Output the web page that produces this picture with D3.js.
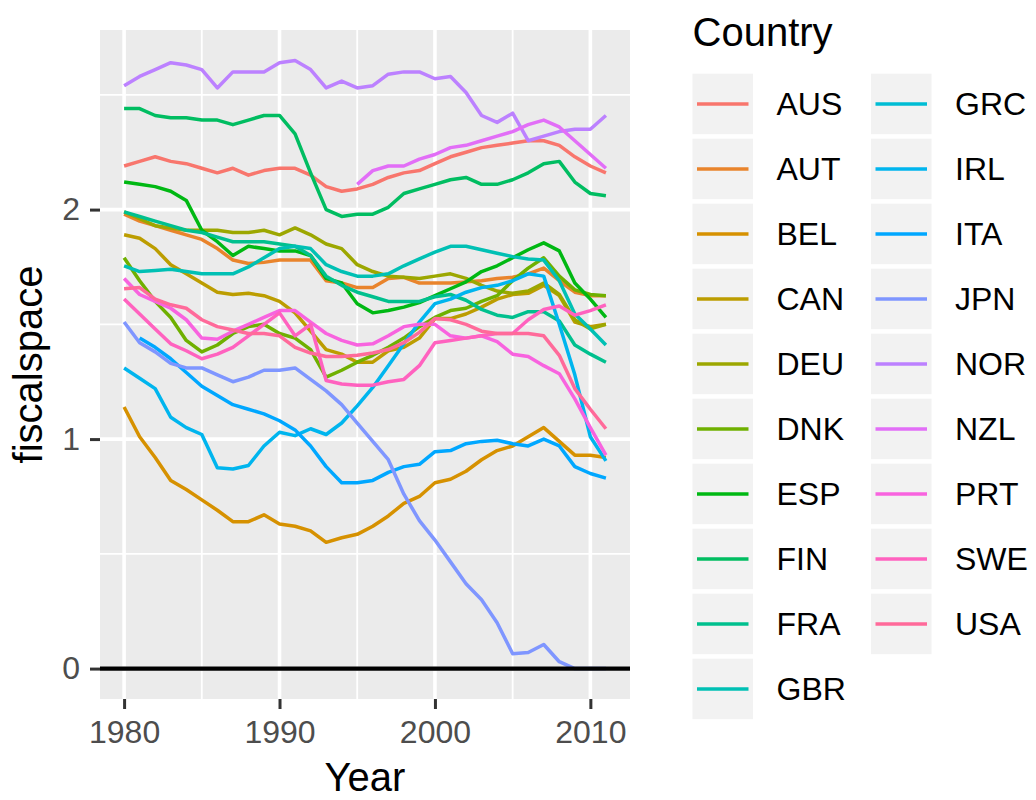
<!DOCTYPE html>
<html>
<head>
<meta charset="utf-8">
<script src="https://cdn.jsdelivr.net/npm/d3@7"></script>
<style>
  html, body { margin: 0; padding: 0; background: #ffffff; }
  svg { display: block; font-family: "Liberation Sans", Arial, Helvetica, sans-serif; }
</style>
</head>
<body>
<svg id="chart" width="1036" height="800"></svg>
<script>
// Fiscal space by country, 1980-2011
const years = [1980, 1981, 1982, 1983, 1984, 1985, 1986, 1987, 1988, 1989,
               1990, 1991, 1992, 1993, 1994, 1995, 1996, 1997, 1998, 1999,
               2000, 2001, 2002, 2003, 2004, 2005, 2006, 2007, 2008, 2009,
               2010, 2011];

const countries = ["AUS", "AUT", "BEL", "CAN", "DEU", "DNK", "ESP", "FIN", "FRA", "GBR",
                   "GRC", "IRL", "ITA", "JPN", "NOR", "NZL", "PRT", "SWE", "USA"];

const fsAUS = [2.19, 2.21, 2.23, 2.21, 2.20, 2.18, 2.16, 2.18, 2.15, 2.17,
               2.18, 2.18, 2.15, 2.10, 2.08, 2.09, 2.11, 2.14, 2.16, 2.17,
               2.20, 2.23, 2.25, 2.27, 2.28, 2.29, 2.30, 2.30, 2.28, 2.23,
               2.19, 2.16];
const fsAUT = [1.98, 1.95, 1.93, 1.91, 1.89, 1.87, 1.83, 1.78, 1.765, 1.77,
               1.78, 1.78, 1.78, 1.69, 1.68, 1.66, 1.66, 1.70, 1.705, 1.68,
               1.68, 1.68, 1.685, 1.69, 1.70, 1.705, 1.72, 1.745, 1.69, 1.64,
               1.625, 1.625];
const fsBEL = [1.14, 1.01, 0.92, 0.82, 0.78, 0.735, 0.69, 0.64, 0.64, 0.67,
               0.63, 0.62, 0.60, 0.55, 0.57, 0.585, 0.62, 0.665, 0.72, 0.75,
               0.81, 0.825, 0.86, 0.91, 0.95, 0.97, 1.01, 1.05, 0.99, 0.93,
               0.93, 0.92];
const fsCAN = [1.89, 1.875, 1.83, 1.76, 1.72, 1.68, 1.64, 1.63, 1.635, 1.625,
               1.60, 1.55, 1.47, 1.39, 1.37, 1.335, 1.335, 1.385, 1.40, 1.44,
               1.525, 1.525, 1.545, 1.575, 1.61, 1.63, 1.635, 1.67, 1.625, 1.51,
               1.49, 1.50];
const fsDEU = [1.99, 1.96, 1.93, 1.92, 1.91, 1.91, 1.91, 1.90, 1.90, 1.91,
               1.89, 1.92, 1.89, 1.85, 1.83, 1.76, 1.73, 1.71, 1.705, 1.70,
               1.71, 1.72, 1.70, 1.67, 1.645, 1.635, 1.645, 1.68, 1.63, 1.52,
               1.48, 1.50];
const fsDNK = [1.79, 1.69, 1.60, 1.53, 1.43, 1.38, 1.41, 1.46, 1.49, 1.50,
               1.46, 1.44, 1.39, 1.27, 1.30, 1.335, 1.365, 1.40, 1.44, 1.49,
               1.53, 1.56, 1.57, 1.60, 1.625, 1.69, 1.745, 1.79, 1.71, 1.65,
               1.63, 1.625];
const fsESP = [2.12, 2.11, 2.10, 2.08, 2.04, 1.91, 1.86, 1.80, 1.84, 1.83,
               1.82, 1.82, 1.80, 1.70, 1.68, 1.59, 1.55, 1.56, 1.575, 1.595,
               1.625, 1.655, 1.685, 1.73, 1.755, 1.79, 1.825, 1.855, 1.82, 1.68,
               1.61, 1.53];
const fsFIN = [2.44, 2.44, 2.41, 2.40, 2.40, 2.39, 2.39, 2.37, 2.39, 2.41,
               2.41, 2.33, 2.16, 2.00, 1.97, 1.98, 1.98, 2.01, 2.07, 2.09,
               2.11, 2.13, 2.14, 2.11, 2.11, 2.13, 2.16, 2.20, 2.21, 2.12,
               2.07, 2.06];
const fsFRA = [1.99, 1.97, 1.95, 1.93, 1.91, 1.90, 1.88, 1.86, 1.86, 1.86,
               1.85, 1.84, 1.80, 1.71, 1.67, 1.64, 1.62, 1.60, 1.60, 1.60,
               1.62, 1.63, 1.605, 1.565, 1.54, 1.53, 1.555, 1.555, 1.515, 1.41,
               1.37, 1.335];
const fsGBR = [1.755, 1.73, 1.735, 1.74, 1.73, 1.72, 1.72, 1.72, 1.75, 1.79,
               1.83, 1.84, 1.83, 1.76, 1.73, 1.71, 1.71, 1.72, 1.755, 1.785,
               1.815, 1.84, 1.84, 1.825, 1.81, 1.795, 1.785, 1.78, 1.69, 1.545,
               1.48, 1.41];
const fsGRC = [null, null, null, null, null, null, null, null, null, null,
               null, null, null, null, null, null, null, null, null, null,
               null, null, null, null, null, null, null, null, null, null,
               null, null];
const fsIRL = [1.31, 1.265, 1.22, 1.095, 1.05, 1.02, 0.875, 0.87, 0.885, 0.97,
               1.03, 1.015, 1.045, 1.02, 1.07, 1.145, 1.225, 1.32, 1.415, 1.51,
               1.59, 1.61, 1.64, 1.66, 1.67, 1.69, 1.72, 1.71, 1.50, 1.28,
               1.01, 0.905];
const fsITA = [null, 1.44, 1.40, 1.35, 1.29, 1.23, 1.19, 1.15, 1.13, 1.11,
               1.08, 1.04, 0.97, 0.88, 0.81, 0.81, 0.82, 0.855, 0.88, 0.89,
               0.945, 0.95, 0.98, 0.99, 0.995, 0.98, 0.97, 1.00, 0.97, 0.88,
               0.85, 0.83];
const fsJPN = [1.51, 1.42, 1.38, 1.33, 1.31, 1.31, 1.28, 1.25, 1.27, 1.30,
               1.30, 1.31, 1.26, 1.21, 1.15, 1.07, 0.99, 0.91, 0.76, 0.645,
               0.56, 0.465, 0.37, 0.30, 0.20, 0.065, 0.07, 0.105, 0.03, 0.00,
               0.00, 0.00];
const fsNOR = [2.54, 2.58, 2.61, 2.64, 2.63, 2.61, 2.53, 2.60, 2.60, 2.60,
               2.64, 2.65, 2.61, 2.53, 2.56, 2.53, 2.54, 2.59, 2.60, 2.60,
               2.57, 2.58, 2.51, 2.41, 2.38, 2.42, 2.30, 2.32, 2.34, 2.35,
               2.35, 2.41];
const fsNZL = [null, null, null, null, null, null, null, null, null, null,
               null, null, null, null, null, 2.11, 2.17, 2.19, 2.19, 2.22,
               2.24, 2.27, 2.28, 2.30, 2.32, 2.34, 2.37, 2.39, 2.36, 2.30,
               2.24, 2.18];
const fsPRT = [1.70, 1.63, 1.60, 1.57, 1.52, 1.44, 1.435, 1.47, 1.50, 1.53,
               1.56, 1.56, 1.51, 1.46, 1.43, 1.41, 1.415, 1.45, 1.49, 1.50,
               1.50, 1.45, 1.44, 1.45, 1.425, 1.37, 1.36, 1.32, 1.285, 1.175,
               1.05, 0.93];
const fsSWE = [1.61, 1.545, 1.48, 1.415, 1.385, 1.35, 1.37, 1.40, 1.45, 1.50,
               1.55, 1.45, 1.50, 1.255, 1.24, 1.235, 1.235, 1.25, 1.26, 1.32,
               1.42, 1.43, 1.44, 1.45, 1.46, 1.46, 1.52, 1.565, 1.58, 1.54,
               1.56, 1.585];
const fsUSA = [1.655, 1.66, 1.61, 1.585, 1.57, 1.52, 1.49, 1.475, 1.46, 1.46,
               1.45, 1.40, 1.375, 1.36, 1.36, 1.365, 1.375, 1.39, 1.42, 1.465,
               1.525, 1.52, 1.50, 1.47, 1.46, 1.46, 1.46, 1.45, 1.365, 1.22,
               1.13, 1.045];

const xBreaks = [1980, 1990, 2000, 2010];
const xMinor = [1985, 1995, 2005];
const yBreaks = [0, 1, 2];
const yMinor = [0.5, 1.5, 2.5];
const refLine = 0;

const valuesByCountry = {
  AUS: fsAUS, AUT: fsAUT, BEL: fsBEL, CAN: fsCAN, DEU: fsDEU, DNK: fsDNK,
  ESP: fsESP, FIN: fsFIN, FRA: fsFRA, GBR: fsGBR, GRC: fsGRC, IRL: fsIRL,
  ITA: fsITA, JPN: fsJPN, NOR: fsNOR, NZL: fsNZL, PRT: fsPRT, SWE: fsSWE,
  USA: fsUSA
};

// Polar LUV (R's hcl()) to sRGB hex, used for the evenly spaced hue palette
function hclHex(h, c, l) {
  const WX = 95.047, WY = 100.0, WZ = 108.883;
  const Wu = 0.1978398, Wv = 0.4683363;
  const hr = h * Math.PI / 180;
  const U = c * Math.cos(hr), V = c * Math.sin(hr);
  const Y = WY * (l > 7.999592 ? Math.pow((l + 16) / 116, 3) : l / 903.3);
  const u = U / (13 * l) + Wu, v = V / (13 * l) + Wv;
  const X = 9.0 * Y * u / (4 * v);
  const Z = -X / 3 - 5 * Y + 3 * Y / v;
  const g = t => t > 0.00304 ? 1.055 * Math.pow(t, 1 / 2.4) - 0.055 : 12.92 * t;
  const ch = t => Math.round(255 * Math.max(0, Math.min(1, g(t))));
  const r = ch(( 3.240479 * X - 1.537150 * Y - 0.498535 * Z) / WY);
  const gg = ch((-0.969256 * X + 1.875992 * Y + 0.041556 * Z) / WY);
  const b = ch(( 0.055648 * X - 0.204043 * Y + 1.057311 * Z) / WY);
  return d3.rgb(r, gg, b).formatHex();
}
const n = countries.length;
const palette = countries.map((_, i) => hclHex(15 + i * (360 / n), 100, 65));
const color = d3.scaleOrdinal().domain(countries).range(palette);

// Layout
const svg = d3.select("#chart");
const panel = { left: 100, right: 630, top: 30, bottom: 699 };

const series = countries.map(c => ({
  country: c,
  points: years.map((yr, i) => ({ year: yr, v: valuesByCountry[c][i] }))
}));

const allVals = series.flatMap(s => s.points.map(p => p.v)).filter(v => v != null).concat([refLine]);
const yExt = d3.extent(allVals);
const yPad = (yExt[1] - yExt[0]) * 0.05;
const xExt = d3.extent(years);
const xPad = (xExt[1] - xExt[0]) * 0.05;

const x = d3.scaleLinear().domain([xExt[0] - xPad, xExt[1] + xPad]).range([panel.left, panel.right]);
const y = d3.scaleLinear().domain([yExt[0] - yPad, yExt[1] + yPad]).range([panel.bottom, panel.top]);

// Panel background
svg.append("rect")
  .attr("x", panel.left).attr("y", panel.top)
  .attr("width", panel.right - panel.left).attr("height", panel.bottom - panel.top)
  .attr("fill", "#EBEBEB");

const grid = svg.append("g");
grid.selectAll("line.ymin").data(yMinor).join("line")
  .attr("x1", panel.left).attr("x2", panel.right)
  .attr("y1", d => y(d)).attr("y2", d => y(d))
  .attr("stroke", "#ffffff").attr("stroke-width", 1.8);
grid.selectAll("line.xmin").data(xMinor).join("line")
  .attr("y1", panel.top).attr("y2", panel.bottom)
  .attr("x1", d => x(d)).attr("x2", d => x(d))
  .attr("stroke", "#ffffff").attr("stroke-width", 1.8);
grid.selectAll("line.ymaj").data(yBreaks).join("line")
  .attr("x1", panel.left).attr("x2", panel.right)
  .attr("y1", d => y(d)).attr("y2", d => y(d))
  .attr("stroke", "#ffffff").attr("stroke-width", 3.6);
grid.selectAll("line.xmaj").data(xBreaks).join("line")
  .attr("y1", panel.top).attr("y2", panel.bottom)
  .attr("x1", d => x(d)).attr("x2", d => x(d))
  .attr("stroke", "#ffffff").attr("stroke-width", 3.6);

svg.append("clipPath").attr("id", "panelClip")
  .append("rect")
  .attr("x", panel.left).attr("y", panel.top)
  .attr("width", panel.right - panel.left).attr("height", panel.bottom - panel.top);

const plot = svg.append("g").attr("clip-path", "url(#panelClip)");

const line = d3.line()
  .defined(d => d.v != null)
  .x(d => x(d.year))
  .y(d => y(d.v));

plot.selectAll("path.series").data(series).join("path")
  .attr("class", "series")
  .attr("d", d => line(d.points))
  .attr("fill", "none")
  .attr("stroke", d => color(d.country))
  .attr("stroke-width", 3.5)
  .attr("stroke-linejoin", "round");

plot.append("line")
  .attr("x1", panel.left).attr("x2", panel.right)
  .attr("y1", y(refLine)).attr("y2", y(refLine))
  .attr("stroke", "#000000").attr("stroke-width", 4.4);

// Axes
const xAxis = svg.append("g")
  .attr("transform", `translate(0,${panel.bottom})`)
  .call(d3.axisBottom(x).tickValues(xBreaks).tickFormat(d3.format("d")).tickSize(10).tickPadding(11));
const yAxis = svg.append("g")
  .attr("transform", `translate(${panel.left},0)`)
  .call(d3.axisLeft(y).tickValues(yBreaks).tickFormat(d3.format("d")).tickSize(10).tickPadding(10));

[xAxis, yAxis].forEach(ax => {
  ax.select(".domain").remove();
  ax.selectAll(".tick line").attr("stroke", "#333333").attr("stroke-width", 3);
  ax.selectAll(".tick text")
    .attr("fill", "#4D4D4D")
    .style("font-size", "32px")
    .style("font-family", "'Liberation Sans', Arial, Helvetica, sans-serif");
});

// Axis titles
svg.append("text")
  .attr("x", (panel.left + panel.right) / 2)
  .attr("y", 791)
  .attr("text-anchor", "middle")
  .attr("fill", "#000000")
  .style("font-size", "40px")
  .text("Year");

svg.append("text")
  .attr("transform", `translate(42,${(panel.top + panel.bottom) / 2}) rotate(-90)`)
  .attr("text-anchor", "middle")
  .attr("fill", "#000000")
  .style("font-size", "40px")
  .text("fiscalspace");

// Legend
const legend = svg.append("g");
legend.append("text")
  .attr("x", 692.5).attr("y", 46)
  .attr("fill", "#000000")
  .style("font-size", "40px")
  .text("Country");

const perCol = 10;
const keySize = 60.5, rowStep = 65, firstTop = 73.7;
const colX = [692.5, 871];

const items = legend.selectAll("g.item").data(countries).join("g")
  .attr("class", "item")
  .attr("transform", (d, i) => {
    const col = Math.floor(i / perCol), row = i % perCol;
    return `translate(${colX[col]},${firstTop + row * rowStep})`;
  });

items.append("rect")
  .attr("width", keySize).attr("height", keySize)
  .attr("fill", "#F2F2F2");
items.append("line")
  .attr("x1", 4.5).attr("x2", keySize - 4.5)
  .attr("y1", keySize / 2).attr("y2", keySize / 2)
  .attr("stroke", d => color(d))
  .attr("stroke-width", 3.4);
items.append("text")
  .attr("x", 84)
  .attr("y", keySize / 2)
  .attr("dy", "0.36em")
  .attr("fill", "#000000")
  .style("font-size", "32px")
  .text(d => d);
</script>
</body>
</html>
